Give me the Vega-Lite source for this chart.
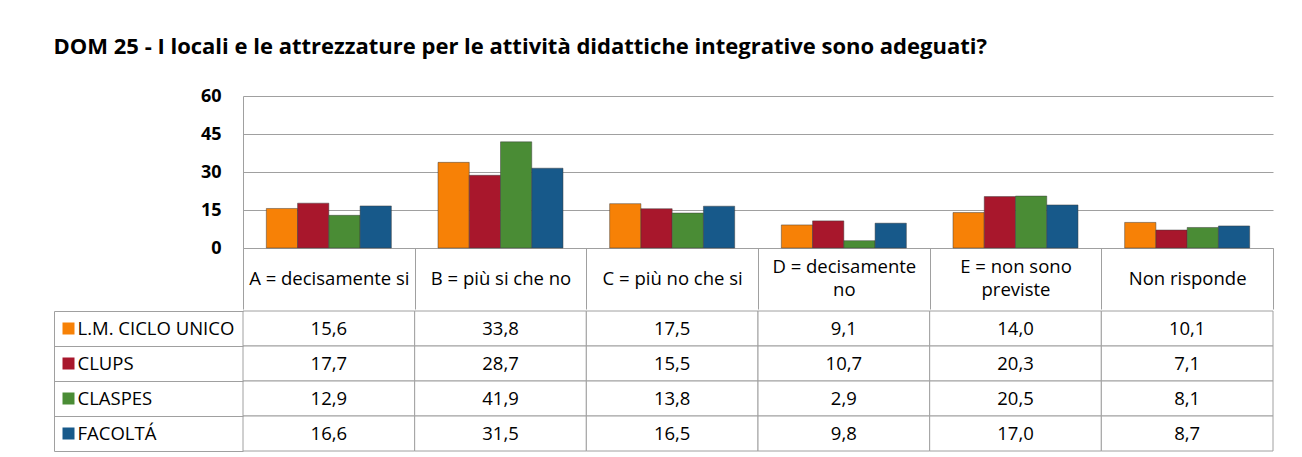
{
  "$schema": "https://vega.github.io/schema/vega-lite/v6.json",
  "padding": {"left": 53, "top": 36, "right": 10, "bottom": 0},
  "background": "white",
  "title": {"text": "DOM 25 - I locali e le attrezzature per le attività didattiche integrative sono adeguati?", "anchor": "start", "font": "Open Sans", "fontSize": 22, "fontWeight": "bold", "color": "black", "offset": 28},
  "datasets": {
    "d": [
      {"cat": "A = decisamente si", "series": "L.M. CICLO UNICO", "value": 15.6},
      {"cat": "A = decisamente si", "series": "CLUPS", "value": 17.7},
      {"cat": "A = decisamente si", "series": "CLASPES", "value": 12.9},
      {"cat": "A = decisamente si", "series": "FACOLTÁ", "value": 16.6},
      {"cat": "B = più si che no", "series": "L.M. CICLO UNICO", "value": 33.8},
      {"cat": "B = più si che no", "series": "CLUPS", "value": 28.7},
      {"cat": "B = più si che no", "series": "CLASPES", "value": 41.9},
      {"cat": "B = più si che no", "series": "FACOLTÁ", "value": 31.5},
      {"cat": "C = più no che si", "series": "L.M. CICLO UNICO", "value": 17.5},
      {"cat": "C = più no che si", "series": "CLUPS", "value": 15.5},
      {"cat": "C = più no che si", "series": "CLASPES", "value": 13.8},
      {"cat": "C = più no che si", "series": "FACOLTÁ", "value": 16.5},
      {"cat": "D = decisamente no", "series": "L.M. CICLO UNICO", "value": 9.1},
      {"cat": "D = decisamente no", "series": "CLUPS", "value": 10.7},
      {"cat": "D = decisamente no", "series": "CLASPES", "value": 2.9},
      {"cat": "D = decisamente no", "series": "FACOLTÁ", "value": 9.8},
      {"cat": "E = non sono previste", "series": "L.M. CICLO UNICO", "value": 14.0},
      {"cat": "E = non sono previste", "series": "CLUPS", "value": 20.3},
      {"cat": "E = non sono previste", "series": "CLASPES", "value": 20.5},
      {"cat": "E = non sono previste", "series": "FACOLTÁ", "value": 17.0},
      {"cat": "Non risponde", "series": "L.M. CICLO UNICO", "value": 10.1},
      {"cat": "Non risponde", "series": "CLUPS", "value": 7.1},
      {"cat": "Non risponde", "series": "CLASPES", "value": 8.1},
      {"cat": "Non risponde", "series": "FACOLTÁ", "value": 8.7}
    ]
  },
  "spacing": 0,
  "vconcat": [
    {
      "data": {"name": "d"},
      "width": 1030,
      "height": 152,
      "mark": {"type": "bar", "stroke": "#3a3a3a", "strokeWidth": 0.6, "strokeOpacity": 0.8},
      "encoding": {
        "x": {
          "field": "cat", "type": "nominal",
          "sort": ["A = decisamente si", "B = più si che no", "C = più no che si", "D = decisamente no", "E = non sono previste", "Non risponde"],
          "scale": {"paddingInner": 0, "paddingOuter": 0},
          "axis": {
            "orient": "bottom", "title": null, "tickBand": "extent", "tickSize": 61, "tickColor": "#a0a0a0",
            "domainColor": "#a0a0a0", "labelAngle": 0,
            "labelPadding": {"condition": {"test": "datum.value == 'D = decisamente no' || datum.value == 'E = non sono previste'", "value": -42.5}, "value": -31},
            "labelBaseline": "middle",
            "labelFont": "Open Sans", "labelFontSize": 18.5, "labelColor": "black", "labelLineHeight": 23,
            "labelExpr": "datum.label == 'D = decisamente no' ? ['D = decisamente', 'no'] : datum.label == 'E = non sono previste' ? ['E = non sono', 'previste'] : datum.label",
            "minExtent": 61, "maxExtent": 61, "labelLimit": 0
          }
        },
        "xOffset": {"field": "series", "type": "nominal", "sort": ["L.M. CICLO UNICO", "CLUPS", "CLASPES", "FACOLTÁ"], "scale": {"paddingInner": 0, "paddingOuter": 0.746}},
        "y": {
          "field": "value", "type": "quantitative",
          "scale": {"domain": [0, 60], "nice": false},
          "axis": {
            "values": [0, 15, 30, 45, 60], "title": null, "grid": true, "gridColor": "#a0a0a0", "domainColor": "#a0a0a0",
            "ticks": false, "labelFont": "Open Sans", "labelFontWeight": "bold", "labelFontSize": 18, "labelColor": "black",
            "labelPadding": 22, "minExtent": 189, "maxExtent": 189
          }
        },
        "color": {
          "field": "series", "type": "nominal",
          "sort": ["L.M. CICLO UNICO", "CLUPS", "CLASPES", "FACOLTÁ"],
          "scale": {"domain": ["L.M. CICLO UNICO", "CLUPS", "CLASPES", "FACOLTÁ"], "range": ["#f78106", "#a8172c", "#4a8c35", "#17598a"]},
          "legend": null
        }
      }
    },
    {
      "data": {"name": "d"},
      "width": 1030,
      "height": 140,
      "encoding": {
        "x": {
          "field": "cat", "type": "nominal",
          "sort": ["A = decisamente si", "B = più si che no", "C = più no che si", "D = decisamente no", "E = non sono previste", "Non risponde"],
          "scale": {"paddingInner": 0, "paddingOuter": 0}, "axis": null
        }
      },
      "layer": [
        {
          "mark": {"type": "rect", "fill": "white", "stroke": "#a0a0a0", "strokeWidth": 1},
          "encoding": {
            "y": {
              "field": "series", "type": "nominal",
              "sort": ["L.M. CICLO UNICO", "CLUPS", "CLASPES", "FACOLTÁ"],
              "scale": {"paddingInner": 0, "paddingOuter": 0},
              "axis": {
                "orient": "left", "offset": 189, "tickSize": -189, "tickBand": "extent", "tickColor": "#a0a0a0",
                "domainColor": "#a0a0a0", "labels": false, "title": null, "grid": false
              }
            }
          }
        },
        {
          "mark": {"type": "text", "font": "Open Sans", "fontSize": 18.5, "color": "black", "baseline": "middle"},
          "encoding": {
            "y": {
              "field": "series", "type": "nominal",
              "sort": ["L.M. CICLO UNICO", "CLUPS", "CLASPES", "FACOLTÁ"],
              "scale": {"paddingInner": 0, "paddingOuter": 0},
              "axis": {
                "orient": "left", "offset": 169, "title": null, "domain": false, "ticks": true, "tickSize": 12, "tickWidth": 12,
                "tickColor": {"condition": [
                  {"test": "datum.value === 'L.M. CICLO UNICO'", "value": "#f78106"},
                  {"test": "datum.value === 'CLUPS'", "value": "#a8172c"},
                  {"test": "datum.value === 'CLASPES'", "value": "#4a8c35"}
                ], "value": "#17598a"},
                "labelAlign": "left", "labelPadding": -15, "labelFont": "Open Sans", "labelFontSize": 18.5, "labelColor": "black",
                "labelBaseline": "middle", "grid": false, "labelLimit": 0
              }
            },
            "text": {"field": "value", "type": "quantitative", "format": ".1f"}
          }
        }
      ],
      "resolve": {"axis": {"y": "independent"}}
    }
  ],
  "config": {
    "locale": {"number": {"decimal": ",", "thousands": ".", "grouping": [3], "currency": ["€", ""]}},
    "view": {"stroke": null}
  }
}
